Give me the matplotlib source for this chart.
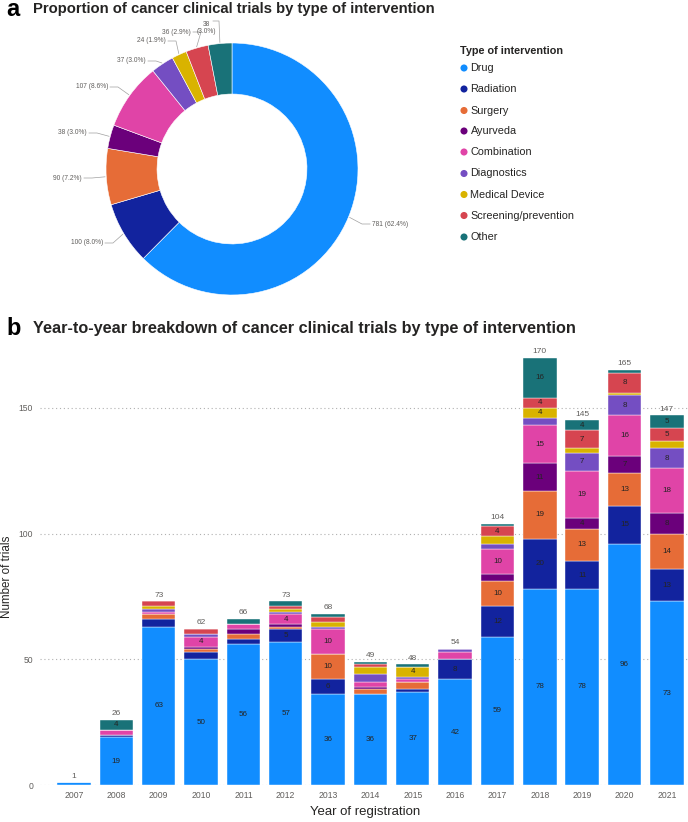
import matplotlib
matplotlib.use("Agg")
import matplotlib.pyplot as plt
import numpy as np

plt.rcParams['font.family'] = ['Liberation Sans', 'DejaVu Sans']

categories = ["Drug", "Radiation", "Surgery", "Ayurveda", "Combination",
              "Diagnostics", "Medical Device", "Screening/prevention", "Other"]
colors = ["#118DFF", "#12239E", "#E66C37", "#6B007B", "#E044A7",
          "#744EC2", "#D9B300", "#D64550", "#197278"]

totals = [781, 100, 90, 38, 107, 37, 24, 36, 38]

years = ["2007", "2008", "2009", "2010", "2011", "2012", "2013", "2014",
         "2015", "2016", "2017", "2018", "2019", "2020", "2021"]
drug =        [1, 19, 63, 50, 56, 57, 36, 36, 37, 42, 59, 78, 78, 96, 73]
radiation =   [0, 1, 3, 3, 2, 5, 6, 0, 1, 8, 12, 20, 11, 15, 13]
surgery =     [0, 0, 2, 1, 2, 1, 10, 2, 3, 0, 10, 19, 13, 13, 14]
ayurveda =    [0, 0, 0, 1, 2, 1, 0, 1, 0, 0, 3, 11, 4, 7, 8]
combination = [0, 2, 1, 4, 2, 4, 10, 2, 1, 3, 10, 15, 19, 16, 18]
diagnostics = [0, 0, 1, 1, 0, 1, 1, 3, 1, 1, 2, 3, 7, 8, 8]
med_device =  [0, 0, 1, 0, 0, 1, 2, 3, 4, 0, 3, 4, 2, 1, 3]
screening =   [0, 0, 2, 2, 0, 1, 2, 1, 0, 0, 4, 4, 7, 8, 5]
other =       [0, 4, 0, 0, 2, 2, 1, 1, 1, 0, 1, 16, 4, 1, 5]
series = [drug, radiation, surgery, ayurveda, combination, diagnostics,
          med_device, screening, other]

W, H = 688, 822
fig = plt.figure(figsize=(W / 100, H / 100), dpi=100)

def fbox(x0, y0, x1, y1):
    return [x0 / W, 1 - y1 / H, (x1 - x0) / W, (y1 - y0) / H]

GRAY = "#605E5C"
DARK = "#252423"

# ---------------- Donut ----------------
cx, cy, R = 232, 169, 126
ax1 = fig.add_axes(fbox(0, 9, 464, 329))
wedges, _ = ax1.pie(totals, colors=colors, startangle=90, counterclock=False,
                    wedgeprops=dict(width=0.405, edgecolor="white", linewidth=0.4))
ax1.set_xlim(-cx / R, (464 - cx) / R)
ax1.set_ylim(-(329 - cy) / R, (cy - 9) / R)
ax1.set_aspect("auto")
ax1.axis("off")

pct = [t / sum(totals) * 100 for t in totals]
lab_pos = [(372, 224, "left"), (103, 243, "right"), (82, 178, "right"),
           (87, 133, "right"), (108, 87, "right"), (146, 61, "right"),
           (166, 41, "right"), (191, 32, "right"), (206, 28, "center")]

def to_d(x, y):
    return (x - cx) / R, (cy - y) / R

for i, w in enumerate(wedges):
    ang = np.deg2rad((w.theta1 + w.theta2) / 2)
    px, py = 1.01 * np.cos(ang), 1.01 * np.sin(ang)
    x, y, ha = lab_pos[i]
    if i == len(wedges) - 1:
        txt = f"{totals[i]}\n({pct[i]:.1f}%)"
        ax1.text(*to_d(x, y), txt, ha="center", va="center", fontsize=4.8,
                 color=GRAY, linespacing=0.95)
        ex0, ey0 = to_d(213, 21)
        ex1, ey1 = to_d(219, 21)
        ax1.plot([ex0, ex1, px], [ey0, ey1, py], color="#A0A0A0", lw=0.5)
        continue
    txt = f"{totals[i]} ({pct[i]:.1f}%)"
    tx, ty = to_d(x, y)
    ax1.text(tx, ty, txt, ha=ha, va="center", fontsize=4.8, color=GRAY)
    if ha == "left":
        s0 = to_d(x - 2, y)
        s1 = to_d(x - 10, y)
    else:
        s0 = to_d(x + 2, y)
        s1 = to_d(x + 10, y)
    ax1.plot([s0[0], s1[0], px], [s0[1], s1[1], py], color="#A0A0A0", lw=0.5)

# ---------------- Overlay for free text ----------------
axL = fig.add_axes([0, 0, 1, 1])
axL.set_xlim(0, W)
axL.set_ylim(H, 0)
axL.axis("off")
axL.patch.set_alpha(0)

axL.text(6, 10, "a", fontsize=17, fontweight="bold", va="center", ha="left", color="black")
axL.text(33, 9, "Proportion of cancer clinical trials by type of intervention",
         fontsize=10.7, fontweight="bold", va="center", ha="left", color=DARK)
axL.text(6, 328, "b", fontsize=17, fontweight="bold", va="center", ha="left", color="black")
axL.text(33, 328, "Year-to-year breakdown of cancer clinical trials by type of intervention",
         fontsize=11.7, fontweight="bold", va="center", ha="left", color=DARK)

# legend
axL.text(460, 51, "Type of intervention", fontsize=7.8, fontweight="bold",
         va="center", ha="left", color=DARK)
leg_y = [68, 89, 110.5, 131, 152, 173.5, 194.5, 215.5, 237]
for c, name, yy in zip(colors, categories, leg_y):
    axL.scatter([464], [yy], s=26, color=c, edgecolors="none")
    axL.text(470.5, yy, name, fontsize=7.8, va="center", ha="left", color=DARK)

axL.text(7, 577, "Number of trials", fontsize=8.4, rotation=90,
         va="center", ha="center", color=DARK)
axL.text(365, 812, "Year of registration", fontsize=9.5,
         va="center", ha="center", color=DARK)

# ---------------- Stacked bars ----------------
ax2 = fig.add_axes(fbox(40, 345, 688, 785))
ax2.set_zorder(axL.get_zorder() - 1)
x = np.arange(len(years))
bottom = np.zeros(len(years))
for vals, c in zip(series, colors):
    vals = np.array(vals, dtype=float)
    ax2.bar(x, vals, bottom=bottom, width=0.79, color=c,
            edgecolor="white", linewidth=0.3, zorder=3)
    for xi, v, b in zip(x, vals, bottom):
        if v >= 4:
            ax2.text(xi, b + v / 2, f"{int(v)}", ha="center", va="center",
                     fontsize=5.8, color=DARK, zorder=4)
    bottom += vals

for xi, t in zip(x, bottom):
    ax2.annotate(f"{int(t)}", (xi, t), xytext=(0, 2), textcoords="offset points",
                 ha="center", va="bottom", fontsize=6, color=GRAY)

ax2.set_xlim(-0.803, 14.5)
ax2.set_ylim(0, 175)
ax2.set_yticks([0, 50, 100, 150])
ax2.set_xticks(x)
ax2.set_xticklabels(years)
ax2.tick_params(axis="both", length=0, labelsize=6.2, colors=GRAY)
ax2.tick_params(axis="x", pad=4)
ax2.tick_params(axis="y", pad=5)
ax2.grid(axis="y", linestyle=(0, (1, 2.5)), color="#B0B0B0", linewidth=0.8, zorder=0)
ax2.set_axisbelow(True)
for s in ax2.spines.values():
    s.set_visible(False)
ax2.patch.set_alpha(0)

fig.savefig("out.png", dpi=100)
